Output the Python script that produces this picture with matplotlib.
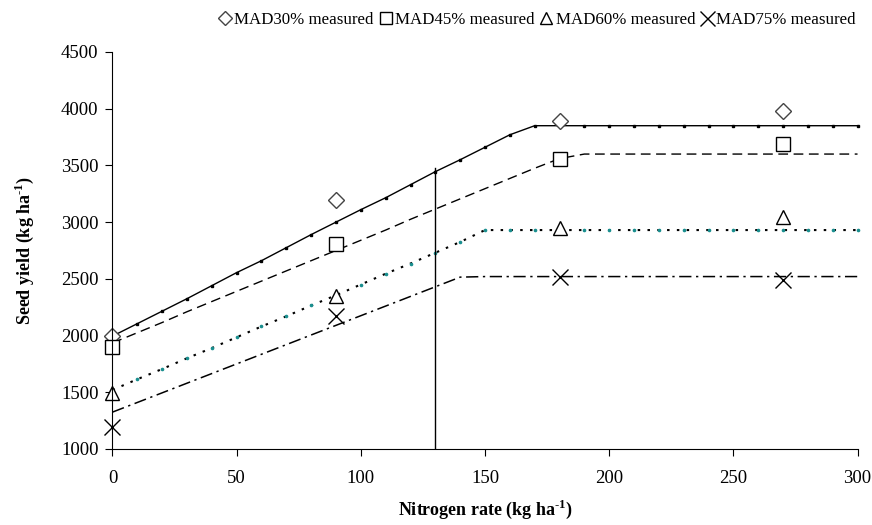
import numpy as np
from matplotlib import pyplot as plt

# nitrogen rates for the model curves (every 10 kg/ha)
n_rate = list(range(0, 310, 10))
mad30_model = [1995, 2105, 2215, 2325, 2440, 2555, 2660, 2775, 2890, 3000,
               3110, 3215, 3330, 3445, 3550, 3660, 3770, 3850, 3850, 3850,
               3850, 3850, 3850, 3850, 3850, 3850, 3850, 3850, 3850, 3850, 3850]
mad45_model = [1935, 2025, 2115, 2210, 2300, 2390, 2480, 2570, 2660, 2750,
               2840, 2930, 3025, 3115, 3205, 3295, 3385, 3475, 3560, 3600,
               3600, 3600, 3600, 3600, 3600, 3600, 3600, 3600, 3600, 3600, 3600]
mad60_model = [1520, 1615, 1705, 1800, 1890, 1985, 2080, 2170, 2265, 2355,
               2450, 2545, 2635, 2730, 2825, 2930, 2930, 2930, 2930, 2930,
               2930, 2930, 2930, 2930, 2930, 2930, 2930, 2930, 2930, 2930, 2930]
mad75_model = [1325, 1410, 1495, 1580, 1665, 1750, 1835, 1920, 2005, 2090,
               2175, 2260, 2345, 2430, 2515, 2520, 2520, 2520, 2520, 2520,
               2520, 2520, 2520, 2520, 2520, 2520, 2520, 2520, 2520, 2520, 2520]

# measured data
n_meas = [0, 90, 180, 270]
mad30_meas = [2000, 3195, 3890, 3980]
mad45_meas = [1900, 2805, 3560, 3690]
mad60_meas = [1490, 2350, 2945, 3045]
mad75_meas = [1190, 2170, 2520, 2490]

vline_x = 130
vline_top = 3480

plt.rcParams['font.family'] = ['Liberation Serif', 'DejaVu Serif']
plt.rcParams['mathtext.fontset'] = 'custom'
plt.rcParams['mathtext.rm'] = 'Liberation Serif'
plt.rcParams['mathtext.bf'] = 'Liberation Serif:bold'

fig = plt.figure(figsize=(8.72, 5.25), dpi=100)
ax = fig.add_axes([0.129, 0.1448, 0.8544, 0.7562])

ax.plot(n_rate, mad30_model, color='black', lw=1.0, marker='s', ms=1.8,
        clip_on=False)
ax.plot(n_rate, mad45_model, color='black', lw=1.0, dashes=(7, 4))
ax.plot(n_rate, mad60_model, color='black', lw=1.5, ls=(0, (1.2, 3.5)),
        marker='.', ms=3.2, mfc='#1a8f8f', mec='#1a8f8f', clip_on=False)
ax.plot(n_rate, mad75_model, color='black', lw=1.1, dashes=(8, 3, 1.5, 3))
ax.plot([vline_x, vline_x], [1000, vline_top], color='black', lw=1)

mk = dict(ls='none', mfc='white', mew=1.0, ms=10, clip_on=False)
ax.plot(n_meas, mad30_meas, marker='D', mec='#444444', label='MAD30% measured',
        **{**mk, 'ms': 8})
ax.plot(n_meas, mad45_meas, marker='s', mec='black', label='MAD45% measured', **mk)
ax.plot(n_meas, mad60_meas, marker='^', mec='black', label='MAD60% measured', **mk)
ax.plot(n_meas, mad75_meas, marker='x', mec='black', label='MAD75% measured',
        **{**mk, 'ms': 12})

ax.set_xlim(0, 300)
ax.set_ylim(1000, 4500)
ax.set_xticks(range(0, 301, 50))
ax.set_yticks(range(1000, 4501, 500))
ax.spines['top'].set_visible(False)
ax.spines['right'].set_visible(False)
ax.tick_params(direction='out', length=5, labelsize=13.5, pad=5)
ax.xaxis.set_tick_params(pad=10)

sup = '$^{\\mathbf{\u2010}\\mathbf{1}}$'
ax.set_xlabel('Nitrogen rate (kg ha' + sup + ')', fontsize=13,
              fontweight='bold', labelpad=8)
ax.set_ylabel('Seed yield (kg ha' + sup + ')', fontsize=13,
              fontweight='bold', labelpad=18)

leg = fig.legend(loc='upper right', bbox_to_anchor=(0.995, 1.0), ncol=4,
                 frameon=False, fontsize=12.2, handlelength=0.9,
                 handletextpad=0.1, columnspacing=0.25, borderaxespad=0.3)
for h in leg.legend_handles:
    h.set_markersize(h.get_markersize() * 0.9)

fig.savefig('out.png', dpi=100)
